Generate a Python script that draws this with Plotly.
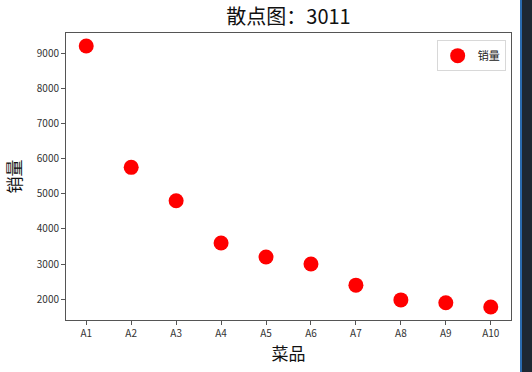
import plotly.graph_objects as go

categories = ["A1", "A2", "A3", "A4", "A5", "A6", "A7", "A8", "A9", "A10"]
sales = [9200, 5750, 4800, 3600, 3200, 3000, 2400, 1980, 1900, 1780]
yticks = [2000, 3000, 4000, 5000, 6000, 7000, 8000, 9000]

FONT = "Noto Sans CJK SC, Liberation Sans, sans-serif"

lo, hi = min(sales), max(sales)
pad = (hi - lo) * 0.05

fig = go.Figure()
fig.add_trace(go.Scatter(
    x=list(range(len(categories))), y=sales, mode="markers", name="销量",
    marker=dict(color="red", size=15, line=dict(width=0)),
))

fig.update_layout(
    width=532, height=372,
    margin=dict(l=66, r=21, t=33, b=50),
    paper_bgcolor="white", plot_bgcolor="white",
    font=dict(family=FONT, color="#222"),
    title=dict(text="散点图：3011", x=(66 + 445 / 2) / 532, xanchor="center",
               y=1 - 17 / 372, yanchor="middle",
               font=dict(size=20, color="#111")),
    showlegend=True,
    legend=dict(x=0.988, y=0.975, xanchor="right", yanchor="top",
                bgcolor="white", bordercolor="#d8d8d8", borderwidth=1,
                font=dict(size=11, color="#222"), itemwidth=30),
    xaxis=dict(range=[-0.45, len(categories) - 0.55],
               tickvals=list(range(len(categories))), ticktext=categories,
               showgrid=False, zeroline=False, showline=True, linecolor="#555",
               linewidth=1, mirror=True, ticks="outside", ticklen=4,
               tickcolor="#555", tickfont=dict(size=10, color="#333"),
               title=dict(text="菜品", font=dict(size=17, color="#111"), standoff=8)),
    yaxis=dict(range=[lo - pad, hi + pad], tickvals=yticks,
               showgrid=False, zeroline=False, showline=True, linecolor="#555",
               linewidth=1, mirror=True, ticks="outside", ticklen=4,
               tickcolor="#555", tickfont=dict(size=10, color="#333"),
               title=dict(text="销量", font=dict(size=17, color="#111"), standoff=10)),
    shapes=[
        dict(type="rect", xref="paper", yref="paper",
             x0=(520 - 66) / 445, x1=(540 - 66) / 445,
             y0=-60 / 289, y1=1 + 40 / 289,
             fillcolor="#1e2833", line=dict(width=0), layer="above"),
        dict(type="rect", xref="paper", yref="paper",
             x0=(520 - 66) / 445, x1=(522 - 66) / 445,
             y0=-60 / 289, y1=1 + 40 / 289,
             fillcolor="#2b6cb0", line=dict(width=0), layer="above"),
    ],
)

fig.write_html("out.html")
